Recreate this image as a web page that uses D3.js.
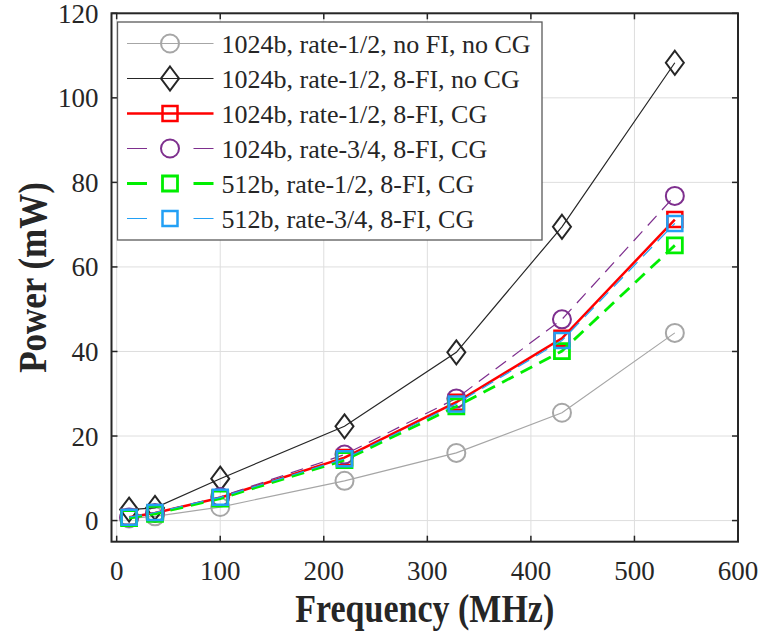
<!DOCTYPE html>
<html>
<head>
    <meta http-equiv="Content-Type" content="text/html;charset=utf-8">
    <script src="https://d3js.org/d3.v7.min.js"></script>
    <style>
        html, body {
            margin: 0;
            padding: 0;
            background: #fff;
        }

        svg text {
            font-family: "Liberation Serif", "Times New Roman", serif;
            fill: #262626;
        }

        .grid line {
            stroke: #dedede;
            stroke-width: 1;
        }
    </style>
</head>
<body>
<div id="chart"></div>
<script>
    // frequency (MHz) on x, power (mW) on y
    var freq = [12, 37, 100, 220, 328, 430, 539];

    var noFiNoCg = [0.5, 1.0, 3.2, 9.4, 16.0, 25.5, 44.4];
    var fi8NoCg = [2.6, 3.0, 9.9, 22.3, 39.8, 69.5, 108.3];
    var r12Fi8Cg = [0.8, 1.8, 5.4, 14.9, 28.0, 43.1, 71.2];
    var r34Fi8Cg = [0.7, 1.8, 5.6, 15.6, 28.9, 47.6, 76.8];
    var b512r12 = [0.6, 1.6, 5.2, 14.3, 27.0, 40.1, 65.1];
    var b512r34 = [0.8, 1.9, 5.5, 14.6, 27.6, 42.6, 70.3];

    var xTicks = [0, 100, 200, 300, 400, 500, 600];
    var yTicks = [0, 20, 40, 60, 80, 100, 120];

    var seriesNames = [
        "1024b, rate-1/2, no FI, no CG",
        "1024b, rate-1/2, 8-FI, no CG",
        "1024b, rate-1/2, 8-FI, CG",
        "1024b, rate-3/4, 8-FI, CG",
        "512b, rate-1/2, 8-FI, CG",
        "512b, rate-3/4, 8-FI, CG"
    ];

    var styles = [
        {values: noFiNoCg, color: "#a6a6a6", width: 1.2, dash: null, marker: "circle", mw: 2},
        {values: fi8NoCg, color: "#262626", width: 1.2, dash: null, marker: "diamond", mw: 2},
        {values: r12Fi8Cg, color: "#ff0000", width: 2.5, dash: null, marker: "square", mw: 2.5},
        {values: r34Fi8Cg, color: "#7e2f8e", width: 1.2, dash: "13,8", marker: "circle", mw: 2},
        {values: b512r12, color: "#00ee00", width: 2.8, dash: "13,8", marker: "square", mw: 2.8},
        {values: b512r34, color: "#22a0f5", width: 1.2, dash: "13,8", marker: "square", mw: 2.5}
    ];

    var width = 761,
        height = 632,
        plot = {left: 111.5, top: 13.3, right: 738, bottom: 541.7};

    var svg = d3.select("#chart").append("svg")
        .attr("width", width)
        .attr("height", height);

    var x = d3.scaleLinear().domain([-5, 600]).range([plot.left, plot.right]);
    var y = d3.scaleLinear().domain([-5, 120]).range([plot.bottom, plot.top]);

    // grid
    var grid = svg.append("g").attr("class", "grid");
    grid.selectAll(".gx").data(xTicks).enter().append("line")
        .attr("x1", function (d) { return x(d); })
        .attr("x2", function (d) { return x(d); })
        .attr("y1", plot.top).attr("y2", plot.bottom);
    grid.selectAll(".gy").data(yTicks).enter().append("line")
        .attr("y1", function (d) { return y(d); })
        .attr("y2", function (d) { return y(d); })
        .attr("x1", plot.left).attr("x2", plot.right);

    var markerPath = function (type, cx, cy) {
        if (type === "circle") {
            var r = 9;
            return "M" + (cx - r) + "," + cy + "a" + r + "," + r + " 0 1,0 " + (2 * r) + ",0" +
                "a" + r + "," + r + " 0 1,0 " + (-2 * r) + ",0Z";
        }
        if (type === "square") {
            var s = 7.5;
            return "M" + (cx - s) + "," + (cy - s) + "h" + (2 * s) + "v" + (2 * s) + "h" + (-2 * s) + "Z";
        }
        // diamond
        return "M" + cx + "," + (cy - 12) + "L" + (cx + 9) + "," + cy + "L" + cx + "," + (cy + 12) +
            "L" + (cx - 9) + "," + cy + "Z";
    };

    var line = d3.line()
        .x(function (d, i) { return x(freq[i]); })
        .y(function (d) { return y(d); });

    var plotArea = svg.append("g");

    styles.forEach(function (s) {
        var g = plotArea.append("g");
        g.append("path")
            .attr("d", line(s.values))
            .attr("fill", "none")
            .attr("stroke", s.color)
            .attr("stroke-width", s.width)
            .attr("stroke-dasharray", s.dash);
        g.selectAll("path.m").data(s.values).enter().append("path")
            .attr("class", "m")
            .attr("d", function (d, i) { return markerPath(s.marker, x(freq[i]), y(d)); })
            .attr("fill", "none")
            .attr("stroke", s.color)
            .attr("stroke-width", s.mw);
    });

    // axes box + inward ticks on all four sides
    var axisColor = "#262626";
    svg.append("rect")
        .attr("x", plot.left).attr("y", plot.top)
        .attr("width", plot.right - plot.left)
        .attr("height", plot.bottom - plot.top)
        .attr("fill", "none")
        .attr("stroke", axisColor)
        .attr("stroke-width", 2);

    var tickLen = 6;
    var ticks = svg.append("g").attr("stroke", axisColor).attr("stroke-width", 1.5);
    xTicks.forEach(function (t) {
        ticks.append("line").attr("x1", x(t)).attr("x2", x(t))
            .attr("y1", plot.bottom).attr("y2", plot.bottom - tickLen);
        ticks.append("line").attr("x1", x(t)).attr("x2", x(t))
            .attr("y1", plot.top).attr("y2", plot.top + tickLen);
    });
    yTicks.forEach(function (t) {
        ticks.append("line").attr("y1", y(t)).attr("y2", y(t))
            .attr("x1", plot.left).attr("x2", plot.left + tickLen);
        ticks.append("line").attr("y1", y(t)).attr("y2", y(t))
            .attr("x1", plot.right).attr("x2", plot.right - tickLen);
    });

    svg.append("g").selectAll("text").data(xTicks).enter().append("text")
        .attr("x", function (d) { return x(d); })
        .attr("y", 579.5)
        .attr("text-anchor", "middle")
        .style("font-size", "27px")
        .text(function (d) { return d; });

    svg.append("g").selectAll("text").data(yTicks).enter().append("text")
        .attr("x", 98.5)
        .attr("y", function (d) { return y(d) + 9.5; })
        .attr("text-anchor", "end")
        .style("font-size", "27px")
        .text(function (d) { return d; });

    // axis titles (source font is a bit taller than Liberation Serif)
    svg.append("text")
        .attr("transform", "translate(" + ((plot.left + plot.right) / 2) + ",622) scale(1,1.15)")
        .attr("text-anchor", "middle")
        .style("font-size", "34px")
        .style("font-weight", "bold")
        .text("Frequency (MHz)");

    svg.append("text")
        .attr("transform", "translate(46," + ((plot.top + plot.bottom) / 2) + ") rotate(-90) scale(1,1.15)")
        .attr("text-anchor", "middle")
        .style("font-size", "35px")
        .style("font-weight", "bold")
        .text("Power (mW)");

    // legend
    var legend = svg.append("g");
    legend.append("rect")
        .attr("x", 117.5).attr("y", 22)
        .attr("width", 424.5).attr("height", 218)
        .attr("fill", "#fff")
        .attr("stroke", "#5a5a5a")
        .attr("stroke-width", 1.3);

    styles.forEach(function (s, i) {
        var ly = 43.5 + i * 35;
        var row = legend.append("g");
        row.append("line")
            .attr("x1", 127).attr("x2", 213.5)
            .attr("y1", ly).attr("y2", ly)
            .attr("stroke", s.color)
            .attr("stroke-width", s.width)
            .attr("stroke-dasharray", s.dash ? "20,46.5" : null);
        row.append("path")
            .attr("d", markerPath(s.marker, 170, ly))
            .attr("fill", "none")
            .attr("stroke", s.color)
            .attr("stroke-width", s.mw);
        row.append("text")
            .attr("x", 221.5)
            .attr("y", ly + 9)
            .style("font-size", "26px")
            .text(seriesNames[i]);
    });
</script>
</body>
</html>
